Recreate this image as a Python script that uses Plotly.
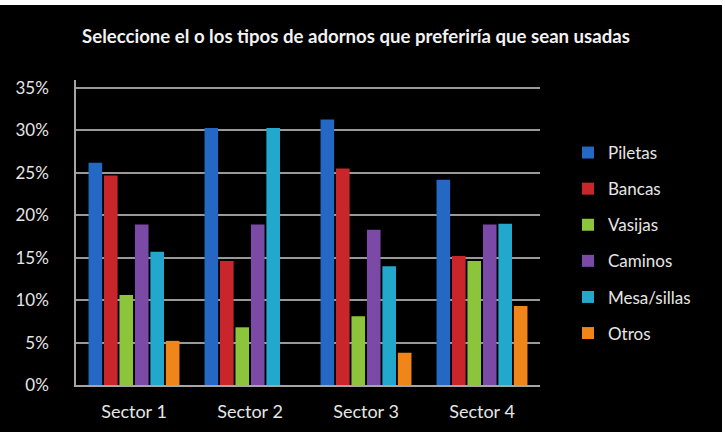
import plotly.graph_objects as go

sectors = ["Sector 1", "Sector 2", "Sector 3", "Sector 4"]
series_names = ["Piletas", "Bancas", "Vasijas", "Caminos", "Mesa/sillas", "Otros"]
piletas = [26.2, 30.3, 31.3, 24.2]
bancas = [24.7, 14.6, 25.5, 15.2]
vasijas = [10.6, 6.8, 8.1, 14.6]
caminos = [18.9, 18.9, 18.3, 18.9]
mesa_sillas = [15.7, 30.3, 14.0, 19.0]
otros = [5.2, 0.0, 3.8, 9.3]
y_ticks = [0, 5, 10, 15, 20, 25, 30, 35]
y_tick_labels = ["0%", "5%", "10%", "15%", "20%", "25%", "30%", "35%"]
title_text = "Seleccione el o los tipos de adornos que preferiría que sean usadas"

colors = ["#2468c4", "#c8262b", "#8cc53c", "#7a4aa6", "#22a8cc", "#f0861a"]
all_values = [piletas, bancas, vasijas, caminos, mesa_sillas, otros]

W, H = 725, 432
L, R, T, B = 76, 185, 80, 47

fig = go.Figure()
for name, vals, c in zip(series_names, all_values, colors):
    fig.add_trace(go.Bar(
        x=sectors, y=vals, name=name, legendgroup=name,
        marker=dict(color=c, line=dict(width=0)),
    ))

pw = W - L - R
ph = H - T - B
# black chart background with thin white border on top/right
fig.add_shape(type="rect", xref="paper", yref="paper", layer="below",
              x0=-L / pw, x1=(W - 3 - L) / pw,
              y0=-B / ph, y1=(H - B - 5) / ph,
              fillcolor="black", line=dict(width=0))

font_family = "Lato, 'Open Sans', sans-serif"
fig.update_layout(
    width=W, height=H,
    margin=dict(l=L, r=R, t=T, b=B, autoexpand=False),
    paper_bgcolor="white",
    plot_bgcolor="#3f3f3f",
    barmode="group", bargap=0.2, bargroupgap=0.12,
    font=dict(family=font_family, color="#e6e6e6", size=16),
    title=dict(text=title_text, x=0.491, xref="container", xanchor="center",
               y=1 - 36 / H, yref="container", yanchor="middle",
               font=dict(size=18.6, color="#f2f2f2", family=font_family, weight="bold")),
    showlegend=True,
    legend=dict(x=(568 - L) / pw, xanchor="left", y=(385 - 243) / ph, yanchor="middle",
                bgcolor="rgba(0,0,0,0)", font=dict(size=17, color="#e6e6e6"),
                traceorder="grouped", tracegroupgap=11, itemclick=False,
                itemwidth=30),
    xaxis=dict(showgrid=False, showline=True, linecolor="#a6a6a6", linewidth=2,
               ticks="", ticklabelstandoff=9, automargin=False,
               tickfont=dict(size=18, color="#e6e6e6")),
    yaxis=dict(range=[0, 35 * (ph / (385 - 88))], tickvals=y_ticks, ticktext=y_tick_labels,
               showgrid=True, gridcolor="#999999", gridwidth=1.5,
               zeroline=False, showline=True, linecolor="#a6a6a6", linewidth=1.5,
               ticks="", ticklabelstandoff=22, automargin=False,
               tickfont=dict(size=17, color="#e6e6e6")),
)

fig.write_html("out.html")
